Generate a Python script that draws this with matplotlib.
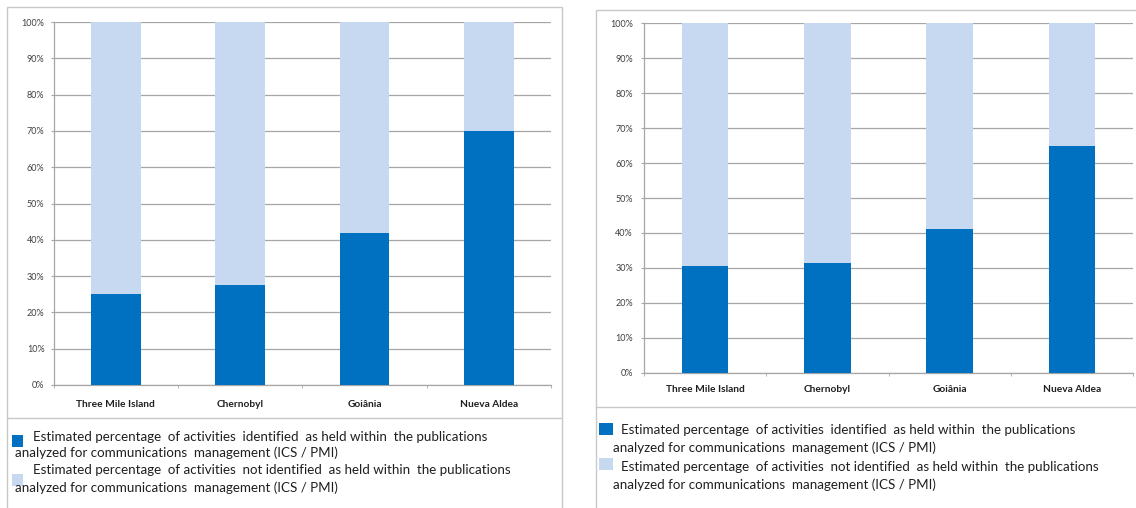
import matplotlib
matplotlib.use("Agg")
import matplotlib.pyplot as plt
from matplotlib.patches import Rectangle
from matplotlib.lines import Line2D
from matplotlib.ticker import PercentFormatter, FixedLocator

# ---------------- data ----------------
categories = ["Three Mile Island", "Chernobyl", "Goiânia", "Nueva Aldea"]
identified_left = [25, 27.5, 42, 70]
not_identified_left = [75, 72.5, 58, 30]
identified_right = [30.5, 31.5, 41, 65]
not_identified_right = [69.5, 68.5, 59, 35]
yticks = [0, 10, 20, 30, 40, 50, 60, 70, 80, 90, 100]

legend_line1 = "Estimated percentage  of activities  identified  as held within  the publications"
legend_line2 = "analyzed for communications  management (ICS / PMI)"
legend_line3 = "Estimated percentage  of activities  not identified  as held within  the publications"
legend_line4 = "analyzed for communications  management (ICS / PMI)"

DARK = "#0070C0"
LIGHT = "#C6D9F1"
GRID = "#a6a6a6"
BOX = "#c8c8c8"
TXT = "#1f1f1f"
TICK = "#404040"
FONT = ["Lato", "DejaVu Sans"]

W, H = 1136, 508
fig = plt.figure(figsize=(W / 100, H / 100), dpi=100)
fig.patch.set_facecolor("white")


def rect(x0, y0, x1, y1):
    return [x0 / W, 1 - y1 / H, (x1 - x0) / W, (y1 - y0) / H]


def fx(x):
    return x / W


def fy(y):
    return 1 - y / H


# panel boxes
for (x0, y0, x1, y1, ysep) in [(7, 7, 562, 520, 418), (596, 10, 1150, 520, 407)]:
    fig.patches.append(Rectangle((fx(x0), fy(y1)), fx(x1) - fx(x0), fy(y0) - fy(y1),
                                 transform=fig.transFigure, facecolor="none",
                                 edgecolor=BOX, lw=1.0, zorder=-1))
    fig.lines.append(Line2D([fx(x0), fx(x1)], [fy(ysep), fy(ysep)],
                            transform=fig.transFigure, color=BOX, lw=1.0, zorder=-1))


def draw_chart(box, ident, notident, xpad, ypad, width):
    ax = fig.add_axes(rect(*box))
    ax.set_zorder(5)
    ax.set_facecolor("none")
    x = list(range(len(categories)))
    ax.bar(x, ident, width=width, color=DARK, zorder=3)
    ax.bar(x, notident, bottom=ident, width=width, color=LIGHT, zorder=3)
    ax.set_xlim(-0.5, len(categories) - 0.5)
    ax.set_ylim(0, 100)
    ax.yaxis.set_major_locator(FixedLocator(yticks))
    ax.yaxis.set_major_formatter(PercentFormatter(decimals=0))
    ax.grid(axis="y", color=GRID, lw=0.9, zorder=1)
    ax.set_axisbelow(True)
    for s in ["top", "right"]:
        ax.spines[s].set_visible(False)
    for s in ["left", "bottom"]:
        ax.spines[s].set_color(GRID)
        ax.spines[s].set_linewidth(0.9)
    ax.set_xticks(x)
    ax.set_xticklabels(categories, fontsize=7.3, fontweight="bold",
                       color=TXT, family=FONT)
    ax.set_xticks([i + 0.5 for i in range(-1, len(categories))], minor=True)
    ax.tick_params(axis="x", which="major", length=0, pad=xpad)
    ax.tick_params(axis="x", which="minor", length=2.5, color=GRID, direction="out")
    ax.tick_params(axis="y", length=2.5, color=GRID, pad=ypad, labelsize=6.5,
                   labelcolor=TICK)
    for lab in ax.get_yticklabels():
        lab.set_family(FONT)
    return ax


draw_chart((53.5, 22, 551, 385), identified_left, not_identified_left, 11, 4, 0.4)
draw_chart((644, 23.3, 1133, 372.7), identified_right, not_identified_right, 8.5, 5.5, 0.38)

# legend text size fitted to the reference line width
renderer = fig.canvas.get_renderer()
probe = fig.text(0, 0, legend_line1, fontsize=10, family=FONT)
w10 = probe.get_window_extent(renderer).width
probe.remove()
LFS = 10 * 455 / w10


def legend_block(sq1, sq2, x_first, x_cont, ys):
    for (sx0, sy0, sx1, sy1), col in [(sq1, DARK), (sq2, LIGHT)]:
        fig.patches.append(Rectangle((fx(sx0), fy(sy1)), fx(sx1) - fx(sx0),
                                     fy(sy0) - fy(sy1), transform=fig.transFigure,
                                     facecolor=col, edgecolor="none", zorder=2))
    lines = [legend_line1, legend_line2, legend_line3, legend_line4]
    xs = [x_first, x_cont, x_first, x_cont]
    for t, xx, yy in zip(lines, xs, ys):
        fig.text(fx(xx), fy(yy), t, fontsize=LFS, family=FONT, color=TXT,
                 ha="left", va="center")


legend_block((11.7, 435, 22.7, 446.5), (11.7, 474, 22.7, 485.5), 33, 15.5,
             [437, 453, 470, 488])
legend_block((599, 422.7, 612.7, 435), (599, 458, 612.7, 470), 621, 613,
             [430, 448, 467, 485])

fig.savefig("out.png", dpi=100, facecolor="white")
